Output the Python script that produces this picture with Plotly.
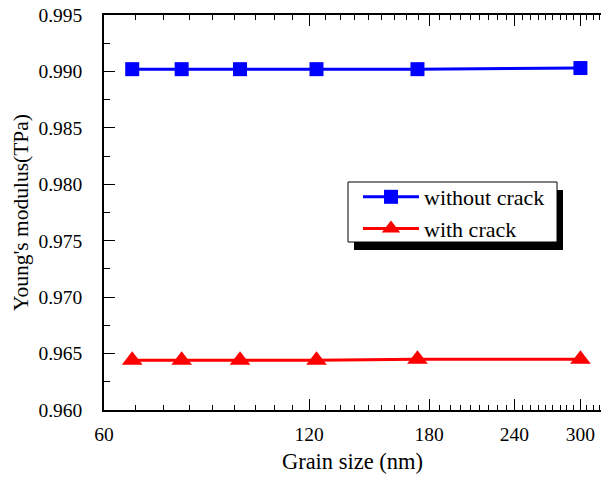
import plotly.graph_objects as go
import numpy as np

grain_size = [66, 78, 95, 123, 173, 300]
without_crack = [0.9902, 0.9902, 0.9902, 0.9902, 0.9902, 0.9903]
with_crack = [0.9644, 0.9644, 0.9644, 0.9644, 0.9645, 0.9645]
x_ticks = [60, 120, 180, 240, 300]
y_ticks = [0.960, 0.965, 0.970, 0.975, 0.980, 0.985, 0.990, 0.995]
minor_x = [60 + k * 20 / 3 for k in range(1, 40) if k % 9 != 0]

FONT = '"Liberation Serif", "Times New Roman", Times, "DejaVu Serif", serif'
W, H = 601, 479
L, R, T, B = 104, 0, 15, 69
pw, ph = W - L - R, H - T - B


def px2paper(x, y):
    return (x - L) / pw, 1 - (y - T) / ph


fig = go.Figure()
fig.add_trace(go.Scatter(x=grain_size, y=without_crack, name="without crack",
                         mode="lines+markers",
                         line=dict(color="#0000ff", width=3),
                         marker=dict(symbol="square", size=14, color="#0000ff")))
fig.add_trace(go.Scatter(x=grain_size, y=with_crack, name="with crack",
                         mode="lines+markers",
                         line=dict(color="#ff0000", width=3),
                         marker=dict(symbol="triangle-up", size=18, color="#ff0000")))

# legend box with shadow
x0, y0 = px2paper(348, 182)
x1, y1 = px2paper(557, 242)
sx0, sy0 = px2paper(354, 190)
sx1, sy1 = px2paper(563, 250)
fig.add_shape(type="rect", xref="paper", yref="paper", x0=sx0, y0=sy0, x1=sx1, y1=sy1,
              fillcolor="black", line=dict(width=0), layer="above")
fig.add_shape(type="rect", xref="paper", yref="paper", x0=x0, y0=y0, x1=x1, y1=y1,
              fillcolor="white", line=dict(color="black", width=1), layer="above")

lx, ly = px2paper(358, 176)
fig.update_layout(
    width=W, height=H,
    margin=dict(l=L, r=R, t=T, b=B),
    paper_bgcolor="white", plot_bgcolor="white",
    font=dict(family=FONT, size=19.5, color="black"),
    showlegend=True,
    legend=dict(x=lx, y=ly, xanchor="left", yanchor="top",
                bgcolor="rgba(0,0,0,0)", borderwidth=0,
                font=dict(family=FONT, size=22, color="black"),
                itemwidth=56, tracegroupgap=0),
    xaxis=dict(type="log", range=[np.log10(60), np.log10(321.6)],
               tickmode="array", tickvals=x_ticks, ticktext=[str(v) for v in x_ticks],
               ticks="inside", ticklen=11, tickwidth=1, tickcolor="black",
               showline=True, linecolor="black", linewidth=1.5, mirror="ticks",
               showgrid=False, zeroline=False,
               minor=dict(tickmode="array", tickvals=minor_x, ticks="inside",
                          ticklen=5, tickcolor="black", showgrid=False),
               title=dict(text="Grain size (nm)", font=dict(family=FONT, size=22.5), standoff=9),
               tickfont=dict(family=FONT, size=19.5),
               ticklabelstandoff=6),
    yaxis=dict(range=[0.960, 0.995], tickmode="array", tickvals=y_ticks,
               ticktext=["%.3f" % v for v in y_ticks],
               ticks="inside", ticklen=11, tickwidth=1, tickcolor="black",
               showline=True, linecolor="black", linewidth=1.5, mirror=False,
               showgrid=False, zeroline=False,
               minor=dict(dtick=0.0025, ticks="inside", ticklen=6,
                          tickcolor="black", showgrid=False),
               title=dict(text="Young's modulus(TPa)", font=dict(family=FONT, size=21.5), standoff=4),
               tickfont=dict(family=FONT, size=19.5),
               ticklabelstandoff=16),
)
fig.write_html("out.html")
